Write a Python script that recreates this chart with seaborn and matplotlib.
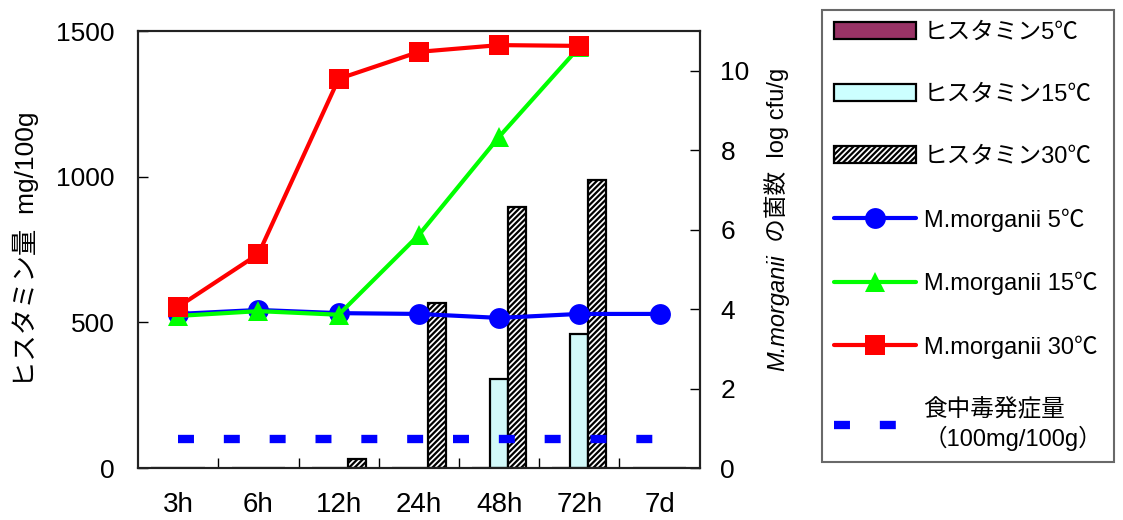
import numpy as np
import pandas as pd
import matplotlib
matplotlib.use('Agg')
import matplotlib.pyplot as plt
import seaborn as sns
from matplotlib.patches import Patch
from matplotlib.lines import Line2D
from matplotlib.ticker import FixedLocator

# data
times = ['3h', '6h', '12h', '24h', '48h', '72h', '7d']
hist_5 = [0, 0, 0, 0, 0, 0, 0]
hist_15 = [0, 0, 0, 0, 305, 460, 0]
hist_30 = [0, 0, 30, 565, 895, 990, 0]
morg_5 = [3.88, 3.98, 3.90, 3.88, 3.78, 3.88, 3.88]
morg_15 = [3.83, 3.95, 3.86, 5.87, 8.34, 10.6, np.nan]
morg_30 = [4.06, 5.39, 9.80, 10.48, 10.65, 10.63, np.nan]
limit = [100] * len(times)

hist_labels = ['ヒスタミン5℃', 'ヒスタミン15℃', 'ヒスタミン30℃']
morg_labels = ['M.morganii 5℃', 'M.morganii 15℃', 'M.morganii 30℃']
limit_label = '食中毒発症量\n（100mg/100g）'

sns.set_style('white')
plt.rcParams['font.family'] = ['Liberation Sans', 'Noto Sans CJK JP']
plt.rcParams['text.color'] = 'black'
plt.rcParams['axes.labelcolor'] = 'black'
plt.rcParams['xtick.color'] = 'black'
plt.rcParams['ytick.color'] = 'black'
plt.rcParams['hatch.linewidth'] = 1.6
plt.rcParams['hatch.color'] = '#666666'
plt.rcParams['lines.scale_dashes'] = False

hist_df = pd.DataFrame({
    'time': times * 3,
    'value': hist_5 + hist_15 + hist_30,
    'series': [hist_labels[0]] * 7 + [hist_labels[1]] * 7 + [hist_labels[2]] * 7,
})
pos = list(range(len(times)))
morg_df = pd.DataFrame({
    'pos': pos * 3,
    'value': morg_5 + morg_15 + morg_30,
    'series': [morg_labels[0]] * 7 + [morg_labels[1]] * 7 + [morg_labels[2]] * 7,
})

bar_colors = ['#993366', '#CCFFFF', '#FFFFFF']
line_colors = ['#0000FF', '#00FF00', '#FF0000']
markers = ['o', '^', 's']
hatch30 = '//////'


def gray_hatch(p):
    # keep the black outline but draw the stripes in grey
    if hasattr(p, 'set_hatchcolor'):
        p.set_hatchcolor('#666666')


fig = plt.figure(figsize=(11.23, 5.20), dpi=100)
ax = fig.add_axes([0.123, 0.10, 0.500, 0.840])

sns.barplot(data=hist_df, x='time', y='value', hue='series', order=times,
            hue_order=hist_labels, palette=bar_colors, width=0.67,
            edgecolor='black', linewidth=1.6, legend=False, ax=ax)
for bar in ax.containers[2]:
    bar.set_hatch(hatch30)
    gray_hatch(bar)

ax.plot(pos, limit, color='#0000FF', linewidth=6, linestyle=(0, (11.5, 21.5)),
        solid_capstyle='butt', dash_capstyle='butt', zorder=5)

ax.set_ylim(0, 1500)
ax.set_xlim(-0.5, 6.5)
ax.set_yticks([0, 500, 1000, 1500])
ax.set_xlabel('')
ax.set_ylabel('ヒスタミン量  mg/100g', fontsize=19)
ax.yaxis.set_label_coords(-0.176, 0.5)
ax.tick_params(axis='y', direction='in', length=7, width=1, labelsize=19, pad=17)
ax.tick_params(axis='x', which='major', length=0, labelsize=20, pad=17)
ax.xaxis.set_minor_locator(FixedLocator([0.5, 1.5, 2.5, 3.5, 4.5, 5.5]))
ax.tick_params(axis='x', which='minor', direction='in', length=7, width=1, bottom=True)

ax2 = ax.twinx()
sns.lineplot(data=morg_df, x='pos', y='value', hue='series', style='series',
             hue_order=morg_labels, palette=line_colors,
             markers=dict(zip(morg_labels, markers)), dashes=False,
             markersize=15, markeredgewidth=0, linewidth=3,
             legend=False, ax=ax2)
ax2.set_ylim(0, 11)
ax2.set_yticks([0, 2, 4, 6, 8, 10])
ax2.set_xlim(-0.5, 6.5)
ax2.set_xlabel('')
ax2.set_ylabel('')
ax2.tick_params(axis='y', direction='in', length=7, width=1, labelsize=19, pad=15)

for a in (ax, ax2):
    for sp in a.spines.values():
        sp.set_color('#222222')
        sp.set_linewidth(1.5)
        sp.set_visible(True)

# right axis label: italic species name followed by plain text
fig.canvas.draw()
renderer = fig.canvas.get_renderer()
x_base = 0.698
t1 = fig.text(x_base, 0, 'M.morganii', fontsize=17, style='italic', rotation=90,
              rotation_mode='anchor', ha='left', va='baseline')
t2 = fig.text(x_base, 0, '  の菌数  log cfu/g', fontsize=17, rotation=90,
              rotation_mode='anchor', ha='left', va='baseline')
h1 = t1.get_window_extent(renderer).height / fig.bbox.height
h2 = t2.get_window_extent(renderer).height / fig.bbox.height
y0 = 0.578 - (h1 + h2) / 2
t1.set_y(y0)
t2.set_y(y0 + h1)

handles = []
for lab, col, hat in zip(hist_labels, bar_colors, [None, None, hatch30]):
    p = Patch(facecolor=col, edgecolor='black', linewidth=1.6, hatch=hat, label=lab)
    if hat:
        gray_hatch(p)
    handles.append(p)
for lab, col, m in zip(morg_labels, line_colors, markers):
    handles.append(Line2D([], [], color=col, linewidth=3, marker=m, markersize=15,
                          markeredgewidth=0, label=lab))
handles.append(Line2D([], [], color='#0000FF', linewidth=6, linestyle=(0, (11.5, 21.5)),
                      dash_capstyle='butt', label=limit_label))

leg = fig.legend(handles=handles, loc='upper left', bbox_to_anchor=(0.732, 0.981),
                 borderaxespad=0, fontsize=17, frameon=True, fancybox=False,
                 handlelength=3.5, labelspacing=1.7, borderpad=0.5, handletextpad=0.3)
leg.get_frame().set_edgecolor('#444444')
leg.get_frame().set_linewidth(1.5)

fig.savefig('out.png', dpi=100)
